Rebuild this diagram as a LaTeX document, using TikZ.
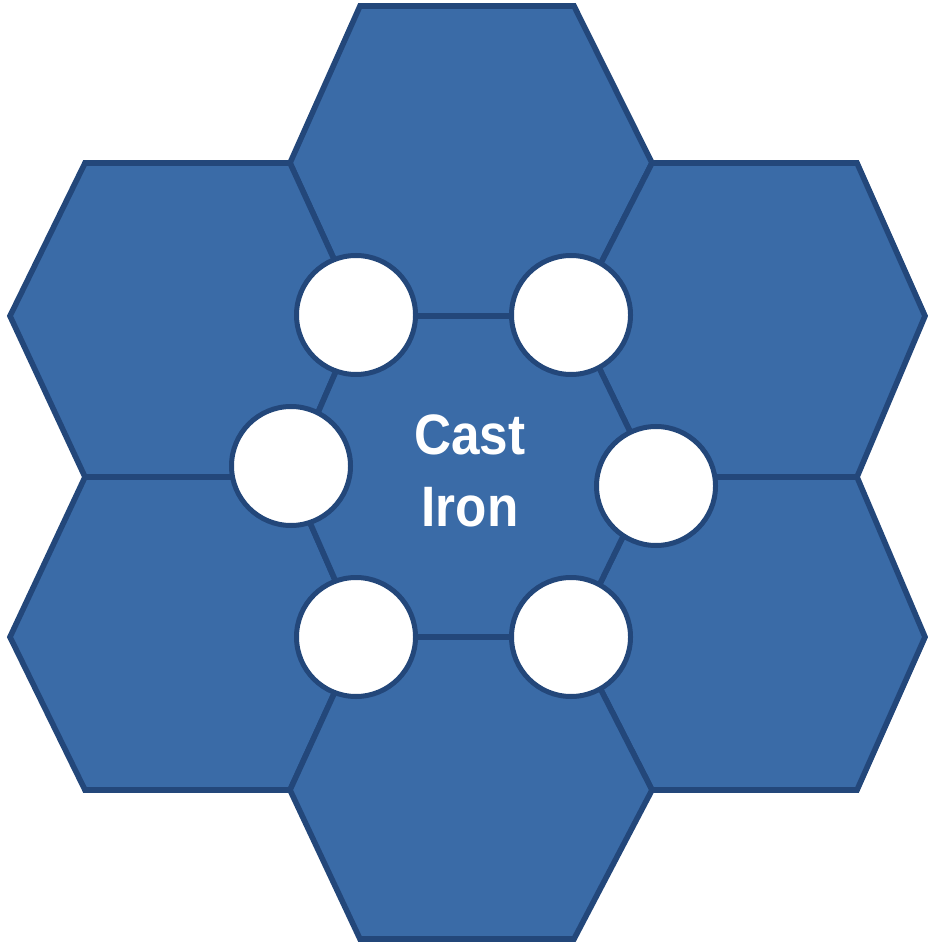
\documentclass[tikz,border=0pt]{standalone}
\usepackage{fontspec}
\setmainfont{Liberation Sans}
\newfontfamily\castfont[FakeStretch=0.9]{Liberation Sans}
\definecolor{hexfill}{HTML}{3A6BA7}
\definecolor{hexline}{HTML}{23477A}
\begin{document}
\begin{tikzpicture}[x=0.5pt,y=-0.5pt,
  hex/.style={fill=hexfill,draw=hexline,line width=2.8pt,line join=miter},
  hole/.style={circle,fill=white,draw=hexline,line width=2.5pt,minimum size=59.5pt,inner sep=0pt},
  label/.style={text=white,font=\castfont\bfseries\fontsize{28.5}{36}\selectfont,align=center}]
\useasboundingbox (0,0) rectangle (927,945);
% x levels
\def\xa{10}\def\xb{85}\def\xc{290}\def\xd{360}\def\xe{574}\def\xf{652}\def\xg{857}\def\xh{925}
% y levels
\def\ya{6}\def\yb{163}\def\yc{316}\def\yd{477}\def\ye{637}\def\yf{790}\def\yg{939}
% top
\draw[hex] (\xd,\ya) -- (\xe,\ya) -- (\xf,\yb) -- (\xe,\yc) -- (\xd,\yc) -- (\xc,\yb) -- cycle;
% upper left
\draw[hex] (\xb,\yb) -- (\xc,\yb) -- (\xd,\yc) -- (\xc,\yd) -- (\xb,\yd) -- (\xa,\yc) -- cycle;
% upper right
\draw[hex] (\xf,\yb) -- (\xg,\yb) -- (\xh,\yc) -- (\xg,\yd) -- (\xf,\yd) -- (\xe,\yc) -- cycle;
% lower left
\draw[hex] (\xb,\yd) -- (\xc,\yd) -- (\xd,\ye) -- (\xc,\yf) -- (\xb,\yf) -- (\xa,\ye) -- cycle;
% lower right
\draw[hex] (\xf,\yd) -- (\xg,\yd) -- (\xh,\ye) -- (\xg,\yf) -- (\xf,\yf) -- (\xe,\ye) -- cycle;
% bottom
\draw[hex] (\xd,\ye) -- (\xe,\ye) -- (\xf,\yf) -- (\xe,\yg) -- (\xd,\yg) -- (\xc,\yf) -- cycle;
% center
\draw[hex] (\xd,\yc) -- (\xe,\yc) -- (\xf,\yd) -- (\xe,\ye) -- (\xd,\ye) -- (\xc,\yd) -- cycle;
% holes
\node[hole] (h1) at (356,315) {};
\node[hole] (h2) at (571,315) {};
\node[hole] (h3) at (291,466) {};
\node[hole] (h4) at (656,486) {};
\node[hole] (h5) at (356,637) {};
\node[hole] (h6) at (571,637) {};
\node[label] (t) at (470,471) {Cast\\Iron};
\end{tikzpicture}
\end{document}
